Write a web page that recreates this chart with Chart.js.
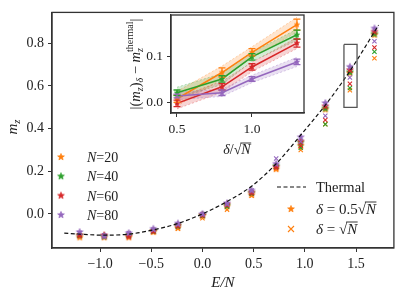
<!DOCTYPE html>
<html>
<head>
<meta charset="utf-8">
<script src="https://cdn.jsdelivr.net/npm/chart.js@4.4.0/dist/chart.umd.min.js"></script>
<style>
  body { margin: 0; background: #fff; }
  #wrap { position: relative; width: 399px; height: 299px; }
  #main { position: absolute; left: 0; top: 0; }
  #inset { position: absolute; left: 120px; top: 0; }
</style>
</head>
<body>
<div id="wrap">
  <canvas id="main" width="399" height="299"></canvas>
  <canvas id="inset" width="200" height="165"></canvas>
</div>
<script>
// ---- main panel data ----
const eVals = [-1.2, -0.96, -0.72, -0.48, -0.24, 0, 0.24, 0.48, 0.72, 0.96, 1.2, 1.44, 1.68];
const thermE = [-1.35, -1.2, -0.96, -0.72, -0.48, -0.24, 0, 0.24, 0.48, 0.72, 0.96, 1.2, 1.44, 1.72];
const thermM = [-0.09, -0.095, -0.1, -0.095, -0.075, -0.045, 0.0, 0.058, 0.13, 0.235, 0.37, 0.51, 0.67, 0.885];

// delta = 0.5 sqrt(N) (stars)
const halfN20 = [-0.11, -0.11, -0.11, -0.085, -0.065, -0.01, 0.035, 0.09, 0.21, 0.32, 0.49, 0.66, 0.84];
const halfN40 = [-0.1, -0.105, -0.1, -0.08, -0.055, -0.005, 0.04, 0.1, 0.225, 0.335, 0.495, 0.665, 0.845];
const halfN60 = [-0.1, -0.1, -0.105, -0.08, -0.055, -0.005, 0.045, 0.1, 0.22, 0.34, 0.505, 0.675, 0.855];
const halfN80 = [-0.085, -0.105, -0.09, -0.07, -0.045, 0.0, 0.05, 0.11, 0.235, 0.36, 0.52, 0.69, 0.87];
// delta = sqrt(N) (crosses)
const fullN20 = [-0.105, -0.11, -0.105, -0.085, -0.07, -0.02, 0.02, 0.085, 0.21, 0.3, 0.42, 0.58, 0.73];
const fullN40 = [-0.1, -0.105, -0.1, -0.08, -0.06, -0.01, 0.035, 0.095, 0.22, 0.31, 0.42, 0.59, 0.76];
const fullN60 = [-0.1, -0.105, -0.1, -0.08, -0.055, -0.005, 0.04, 0.1, 0.225, 0.32, 0.44, 0.61, 0.78];
const fullN80 = [-0.09, -0.1, -0.09, -0.075, -0.05, 0.0, 0.045, 0.11, 0.26, 0.34, 0.46, 0.64, 0.81];

const boxE = [1.382, 1.51, 1.51, 1.382, 1.382];
const boxM = [0.795, 0.795, 0.5, 0.5, 0.795];

const xTicks = [-1.0, -0.5, 0.0, 0.5, 1.0, 1.5];
const yTicks = [0.0, 0.2, 0.4, 0.6, 0.8];

// ---- inset data ----
const insX = [0.5, 0.8, 1.0, 1.3];
const gapN20 = [0.009, 0.066, 0.11, 0.17];
const gapN40 = [0.022, 0.052, 0.1, 0.148];
const gapN60 = [-0.001, 0.035, 0.078, 0.13];
const gapN80 = [0.015, 0.022, 0.052, 0.089];
const errN20 = [0.008, 0.01, 0.008, 0.012];
const errN40 = [0.006, 0.007, 0.007, 0.01];
const errN60 = [0.007, 0.007, 0.007, 0.009];
const errN80 = [0.004, 0.006, 0.005, 0.006];
const bandN20 = [0.016, 0.014, 0.012, 0.016];
const bandN40 = [0.012, 0.012, 0.01, 0.012];
const bandN60 = [0.012, 0.012, 0.01, 0.012];
const bandN80 = [0.008, 0.008, 0.008, 0.01];
const insXTicks = [0.5, 1.0];
const insYTicks = [0.0, 0.1];

const sizes = ['20', '40', '60', '80'];
const colors = ['#ff7f0e', '#2ca02c', '#d62728', '#9467bd'];
const halfSets = [halfN20, halfN40, halfN60, halfN80];
const fullSets = [fullN20, fullN40, fullN60, fullN80];
const gapSets = [gapN20, gapN40, gapN60, gapN80];
const errSets = [errN20, errN40, errN60, errN80];
const bandSets = [bandN20, bandN40, bandN60, bandN80];

const SERIF = '"Liberation Serif", "DejaVu Serif", serif';
const font = (size, it) => (it ? 'italic ' : '') + size + 'px ' + SERIF;
const AX = '#333';

function rgba(hex, a) {
  const n = parseInt(hex.slice(1), 16);
  return `rgba(${n >> 16},${(n >> 8) & 255},${n & 255},${a})`;
}

function makeStar(color, r) {
  const s = Math.ceil(2 * r + 2);
  const c = document.createElement('canvas');
  c.width = s; c.height = s;
  const g = c.getContext('2d');
  g.translate(s / 2, s / 2);
  g.beginPath();
  for (let i = 0; i < 10; i++) {
    const rad = i % 2 === 0 ? r : r * 0.45;
    const a = -Math.PI / 2 + i * Math.PI / 5;
    g.lineTo(rad * Math.cos(a), rad * Math.sin(a));
  }
  g.closePath();
  g.fillStyle = color; g.fill();
  g.strokeStyle = color; g.lineWidth = 0.6; g.stroke();
  return c;
}

function fmt(v) {
  return (v < -1e-9 ? '\u2212' : '') + Math.abs(v).toFixed(1);
}

// rich text: parts = [{t, f, dy, over, sup, supF, supDy}]
function richWidth(ctx, parts) {
  let w = 0;
  parts.forEach(p => {
    ctx.font = p.f;
    let pw = ctx.measureText(p.t).width;
    if (p.sup) { ctx.font = p.supF; pw = Math.max(pw, ctx.measureText(p.sup).width); }
    w += pw;
  });
  return w;
}
function drawRich(ctx, parts, x, y, center) {
  let cx = center ? x - richWidth(ctx, parts) / 2 : x;
  ctx.textBaseline = 'alphabetic';
  ctx.textAlign = 'left';
  parts.forEach(p => {
    ctx.font = p.f;
    const w = ctx.measureText(p.t).width;
    ctx.fillText(p.t, cx, y + (p.dy || 0));
    let pw = w;
    if (p.over) {
      ctx.save();
      ctx.strokeStyle = ctx.fillStyle; ctx.lineWidth = 0.9;
      ctx.beginPath();
      ctx.moveTo(cx - 1, y - p.over);
      ctx.lineTo(cx + w + 0.5, y - p.over);
      ctx.stroke();
      ctx.restore();
    }
    if (p.sup) {
      ctx.font = p.supF;
      ctx.fillText(p.sup, cx, y + p.supDy);
      pw = Math.max(w, ctx.measureText(p.sup).width);
    }
    cx += pw;
  });
}

// ---- main chart ----
const STAR_R = 3.6;
const datasets = [];
sizes.forEach((n, k) => {
  datasets.push({
    type: 'scatter',
    data: eVals.map((e, i) => ({ x: e, y: halfSets[k][i] })),
    pointStyle: makeStar(colors[k], STAR_R),
    pointRadius: 4
  });
  datasets.push({
    type: 'scatter',
    data: eVals.map((e, i) => ({ x: e, y: fullSets[k][i] })),
    pointStyle: 'crossRot',
    pointRadius: 3,
    borderColor: colors[k],
    pointBorderColor: colors[k],
    pointBorderWidth: 1.1
  });
});
datasets.push({
  type: 'line',
  data: thermE.map((e, i) => ({ x: e, y: thermM[i] })),
  borderColor: '#111',
  borderWidth: 1.2,
  borderDash: [4, 2.5],
  pointRadius: 0,
  cubicInterpolationMode: 'monotone',
  fill: false
});
datasets.push({
  type: 'line',
  data: boxE.map((e, i) => ({ x: e, y: boxM[i] })),
  borderColor: '#555',
  borderWidth: 1.3,
  pointRadius: 0,
  tension: 0,
  fill: false
});
datasets.forEach((d, i) => { d.order = datasets.length - i; });

function axisOpts(ticks, min, max, fit) {
  return {
    type: 'linear', min: min, max: max,
    afterBuildTicks: s => { s.ticks = ticks.map(v => ({ value: v })); },
    afterFit: fit,
    ticks: { callback: v => fmt(v), font: { family: SERIF, size: 14 }, color: '#222', padding: 4, maxRotation: 0, autoSkip: false },
    grid: { drawOnChartArea: false, drawTicks: true, tickLength: 4, color: AX, lineWidth: 1 },
    border: { color: AX, width: 1.3 }
  };
}

const mainDecor = {
  id: 'mainDecor',
  afterDraw(chart) {
    const ctx = chart.ctx;
    const a = chart.chartArea;
    ctx.save();
    ctx.strokeStyle = AX; ctx.lineWidth = 1.3;
    ctx.strokeRect(a.left, a.top, a.right - a.left, a.bottom - a.top);
    ctx.fillStyle = '#222';
    // axis labels
    drawRich(ctx, [{ t: 'E/N', f: font(15, true) }], (a.left + a.right) / 2, 287, true);
    ctx.save();
    ctx.translate(17, 127);
    ctx.rotate(-Math.PI / 2);
    drawRich(ctx, [{ t: 'm', f: font(15, true) }, { t: 'z', f: font(10.5, true), dy: 3 }], 0, 0, true);
    ctx.restore();
    // legend N
    sizes.forEach((n, k) => {
      const y = 157 + k * 19.3;
      const st = makeStar(colors[k], STAR_R);
      ctx.drawImage(st, 61 - st.width / 2, y - st.height / 2);
      ctx.fillStyle = '#222';
      drawRich(ctx, [{ t: 'N', f: font(14, true) }, { t: '=' + n, f: font(14) }], 87, y + 5, false);
    });
    // legend delta
    ctx.strokeStyle = '#111'; ctx.lineWidth = 1.2; ctx.setLineDash([4, 2.5]);
    ctx.beginPath(); ctx.moveTo(277, 187); ctx.lineTo(306, 187); ctx.stroke();
    ctx.setLineDash([]);
    drawRich(ctx, [{ t: 'Thermal', f: font(14.5) }], 316, 192, false);
    const st = makeStar(colors[0], STAR_R);
    ctx.drawImage(st, 291 - st.width / 2, 209 - st.height / 2);
    drawRich(ctx, [{ t: '\u03b4', f: font(15, true) }, { t: ' = 0.5', f: font(15) }, { t: '\u221a', f: font(15) }, { t: 'N', f: font(15, true), over: 12 }], 316, 214, false);
    ctx.strokeStyle = colors[0]; ctx.lineWidth = 1.1;
    ctx.beginPath();
    ctx.moveTo(288, 226); ctx.lineTo(294, 232); ctx.moveTo(294, 226); ctx.lineTo(288, 232);
    ctx.stroke();
    ctx.fillStyle = '#222';
    drawRich(ctx, [{ t: '\u03b4', f: font(15, true) }, { t: ' = ', f: font(15) }, { t: '\u221a', f: font(15) }, { t: 'N', f: font(15, true), over: 12 }], 316, 234, false);
    ctx.restore();
  }
};

new Chart(document.getElementById('main').getContext('2d'), {
  type: 'scatter',
  data: { datasets: datasets },
  options: {
    responsive: false,
    animation: false,
    devicePixelRatio: 1,
    layout: { padding: { left: 0, top: 6, right: 4, bottom: 0 } },
    plugins: { legend: { display: false }, tooltip: { enabled: false } },
    scales: {
      x: axisOpts(xTicks, -1.47, 1.87, s => { s.height = 51; }),
      y: axisOpts(yTicks, -0.16, 0.945, s => { s.width = 52; })
    }
  },
  plugins: [mainDecor]
});

// ---- inset chart ----
const insSets = [];
sizes.forEach((n, k) => {
  insSets.push({
    type: 'line',
    data: insX.map((x, i) => ({ x: x, y: gapSets[k][i] + bandSets[k][i] })),
    borderColor: rgba(colors[k], 0.45), borderWidth: 0.7, borderDash: [2, 2],
    pointRadius: 0, fill: false
  });
  insSets.push({
    type: 'line',
    data: insX.map((x, i) => ({ x: x, y: gapSets[k][i] - bandSets[k][i] })),
    borderColor: rgba(colors[k], 0.45), borderWidth: 0.7, borderDash: [2, 2],
    backgroundColor: rgba(colors[k], 0.2),
    pointRadius: 0, fill: '-1'
  });
});
sizes.forEach((n, k) => {
  insSets.push({
    type: 'line',
    data: insX.map((x, i) => ({ x: x, y: gapSets[k][i] })),
    borderColor: colors[k], borderWidth: 1.5,
    pointStyle: makeStar(colors[k], 2.8), pointRadius: 3,
    fill: false
  });
});
insSets.forEach((d, i) => { d.order = insSets.length - i; });

const insetDecor = {
  id: 'insetDecor',
  beforeDraw(chart) {
    const a = chart.chartArea;
    chart.ctx.save();
    chart.ctx.fillStyle = '#fff';
    chart.ctx.fillRect(a.left, a.top, a.right - a.left, a.bottom - a.top);
    chart.ctx.restore();
  },
  afterDatasetsDraw(chart) {
    const ctx = chart.ctx;
    const xs = chart.scales.x, ys = chart.scales.y;
    ctx.save();
    ctx.lineWidth = 1.3;
    sizes.forEach((n, k) => {
      ctx.strokeStyle = colors[k];
      insX.forEach((x, i) => {
        const px = xs.getPixelForValue(x);
        const y1 = ys.getPixelForValue(gapSets[k][i] - errSets[k][i]);
        const y2 = ys.getPixelForValue(gapSets[k][i] + errSets[k][i]);
        ctx.beginPath();
        ctx.moveTo(px, y1); ctx.lineTo(px, y2);
        ctx.moveTo(px - 3.5, y1); ctx.lineTo(px + 3.5, y1);
        ctx.moveTo(px - 3.5, y2); ctx.lineTo(px + 3.5, y2);
        ctx.stroke();
      });
    });
    ctx.restore();
  },
  afterDraw(chart) {
    const ctx = chart.ctx;
    const a = chart.chartArea;
    ctx.save();
    ctx.strokeStyle = AX; ctx.lineWidth = 1.3;
    ctx.strokeRect(a.left, a.top, a.right - a.left, a.bottom - a.top);
    ctx.fillStyle = '#222';
    drawRich(ctx, [{ t: '\u03b4', f: font(14, true) }, { t: '/', f: font(14) }, { t: '\u221a', f: font(14) }, { t: 'N', f: font(14, true), over: 11 }], 117, 154, true);
    ctx.translate(16, 64);
    ctx.rotate(-Math.PI / 2);
    drawRich(ctx, [
      { t: '|(', f: font(14.5) }, { t: 'm', f: font(14.5, true) }, { t: 'z', f: font(10, true), dy: 3 },
      { t: ')', f: font(14.5) }, { t: '\u03b4', f: font(10, true), dy: 3 },
      { t: ' \u2212 ', f: font(14.5) }, { t: 'm', f: font(14.5, true) },
      { t: 'z', f: font(10, true), dy: 3, sup: 'thermal', supF: font(10), supDy: -7 },
      { t: '|', f: font(14.5) }
    ], 0, 4, true);
    ctx.restore();
  }
};

function insAxis(ticks, min, max, fit) {
  const o = axisOpts(ticks, min, max, fit);
  o.ticks.font = { family: SERIF, size: 13.5 };
  return o;
}

new Chart(document.getElementById('inset').getContext('2d'), {
  type: 'line',
  data: { datasets: insSets },
  options: {
    responsive: false,
    animation: false,
    devicePixelRatio: 1,
    layout: { padding: { left: 0, top: 15, right: 16, bottom: 0 } },
    plugins: { legend: { display: false }, tooltip: { enabled: false } },
    scales: {
      x: insAxis(insXTicks, 0.46, 1.347, s => { s.height = 52; }),
      y: insAxis(insYTicks, -0.022, 0.191, s => { s.width = 51; })
    }
  },
  plugins: [insetDecor]
});
</script>
</body>
</html>
